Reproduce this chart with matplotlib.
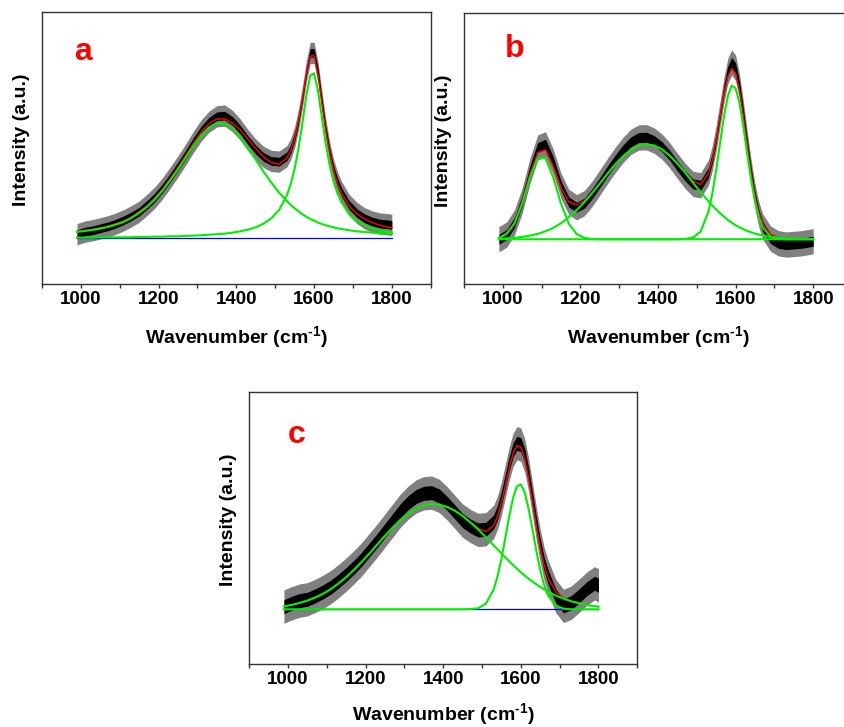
import numpy as np
import matplotlib
matplotlib.use("Agg")
import matplotlib.pyplot as plt
from matplotlib.ticker import FixedLocator

plt.rcParams['font.family'] = ['Liberation Sans', 'DejaVu Sans']
plt.rcParams['font.weight'] = 'bold'
plt.rcParams['mathtext.fontset'] = 'custom'
plt.rcParams['mathtext.rm'] = 'Liberation Sans:bold'
plt.rcParams['mathtext.default'] = 'rm'

# sampling grid (cm-1), shared by the three spectra
wavenumber = [990, 1010, 1030, 1050, 1070, 1090, 1110, 1130, 1150, 1170,
              1190, 1210, 1230, 1250, 1270, 1290, 1310, 1330, 1350, 1370,
              1390, 1410, 1430, 1450, 1470, 1490, 1510, 1530,
              1540, 1550, 1560, 1570, 1580, 1590, 1600, 1610, 1620, 1630,
              1640, 1650, 1660, 1670,
              1690, 1710, 1730, 1750, 1770, 1790, 1800]

# --- sample a : D + G bands ---
a_spectrum = [12, 20, 24, 30, 36, 44, 54, 66, 80, 100,
              122, 150, 182, 216, 252, 290, 324, 350, 366, 368,
              352, 326, 294, 266, 244, 232, 230, 246,
              268, 304, 356, 424, 500, 556, 556, 498, 410, 326, 258, 206, 168, 140,
              100, 76, 60, 50, 44, 42, 40]
a_d_band = [19, 22, 25, 29, 34, 41, 49, 61, 76, 94,
            116, 143, 174, 207, 243, 278, 310, 333, 346, 344,
            329, 304, 271, 236, 200, 167, 137, 112,
            100, 90, 81, 72, 65, 58, 53, 47, 43, 39, 36, 33, 30, 28,
            24, 21, 19, 17, 15, 14, 14]
a_g_band = [2, 2, 2, 3, 3, 3, 3, 3, 4, 4,
            5, 5, 6, 6, 7, 8, 9, 11, 12, 14,
            17, 21, 26, 33, 44, 60, 85, 129,
            163, 209, 270, 346, 428, 488, 495, 443, 363, 284, 220, 171, 135, 109,
            73, 52, 39, 30, 24, 19, 18]

# --- sample b : 1100 band + D + G ---
b_spectrum = [0, 14, 50, 116, 205, 275, 285, 232, 160, 112,
              96, 108, 136, 170, 205, 238, 268, 292, 305, 306,
              296, 278, 252, 220, 190, 166, 162, 200,
              244, 304, 376, 448, 505, 530, 514, 458, 376, 285, 200, 128, 74, 38,
              2, -12, -16, -14, -12, -8, -6]
b_1100_band = [4, 16, 47, 107, 185, 244, 244, 185, 107, 47,
               16, 4, 1, 0, 0, 0, 0, 0, 0, 0,
               0, 0, 0, 0, 0, 0, 0, 0,
               0, 0, 0, 0, 0, 0, 0, 0, 0, 0, 0, 0, 0, 0,
               0, 0, 0, 0, 0, 0, 0]
b_d_band = [1, 3, 4, 7, 11, 16, 24, 34, 48, 66,
            87, 111, 138, 167, 197, 225, 249, 268, 281, 285,
            281, 270, 251, 227, 200, 170, 141, 114,
            101, 89, 78, 68, 58, 50, 42, 36, 30, 25, 21, 17, 14, 11,
            7, 4, 3, 2, 1, 1, 0]
b_g_band = [0, 0, 0, 0, 0, 0, 0, 0, 0, 0,
            0, 0, 0, 0, 0, 0, 0, 0, 0, 0,
            0, 0, 0, 0, 1, 5, 23, 83,
            137, 208, 289, 368, 430, 461, 453, 409, 338, 256, 178, 113, 66, 36,
            8, 1, 0, 0, 0, 0, 0]

# --- sample c : D + G bands ---
c_spectrum = [8, 18, 26, 30, 40, 52, 66, 84, 104, 126,
              150, 178, 206, 236, 266, 296, 320, 338, 348, 350,
              340, 318, 292, 266, 250, 238, 240, 262,
              290, 332, 384, 436, 478, 498, 494, 462, 404, 330, 256, 190, 136, 98,
              40, 10, 20, 40, 62, 78, 72]
c_d_band = [9, 13, 19, 26, 35, 46, 60, 77, 96, 118,
            142, 167, 194, 220, 245, 268, 287, 302, 312, 316,
            314, 307, 296, 280, 261, 240, 216, 192,
            180, 168, 156, 144, 133, 122, 111, 101, 92, 83, 75, 67, 60, 53,
            41, 32, 24, 18, 13, 9, 8]
c_g_band = [0, 0, 0, 0, 0, 0, 0, 0, 0, 0,
            0, 0, 0, 0, 0, 0, 0, 0, 0, 0,
            0, 0, 0, 0, 1, 3, 17, 59,
            99, 151, 214, 278, 334, 369, 375, 351, 302, 240, 175, 118, 73, 42,
            11, 2, 0, 0, 0, 0, 0]

major_ticks = [1000, 1200, 1400, 1600, 1800]
minor_ticks = [900, 1100, 1300, 1500, 1700, 1900]


def draw_panel(ax, spectrum, bands, noise, letter, ylim, letter_xy,
               baseline=True, xlabel_y=-0.148):
    x = np.array(wavenumber)
    y = np.array(spectrum, dtype=float)
    core, outer = noise
    # noisy measured spectrum drawn as a dense band
    ax.fill_between(x, y - outer, y + outer, color='#808080', lw=0)
    ax.fill_between(x, y - core, y + core, color='black', lw=0)
    if baseline:
        ax.plot([x[0], x[-1]], [0, 0], color='#0000ff', lw=0.9)
    fit = np.sum([np.array(b) for b in bands], axis=0)
    ax.plot(x, fit, color='#ff0000', lw=1.0)
    for b in bands:
        ax.plot(x, b, color='#00ee00', lw=1.5)

    ax.set_xlim(900, 1900)
    ax.set_ylim(*ylim)
    ax.xaxis.set_major_locator(FixedLocator(major_ticks))
    ax.xaxis.set_minor_locator(FixedLocator(minor_ticks))
    ax.tick_params(axis='x', which='both', direction='out', length=3, width=1,
                   pad=2, labelsize=13.5, color='#333333')
    ax.set_yticks([])
    for s in ax.spines.values():
        s.set_color('#333333')
        s.set_linewidth(1.0)

    ax.set_xlabel('Wavenumber (cm$^{\u2010 1}$)', fontsize=14, fontweight='bold')
    ax.set_ylabel('Intensity (a.u.)', fontsize=14, fontweight='bold')
    ax.xaxis.set_label_coords(0.5, xlabel_y)
    ax.yaxis.set_label_coords(-0.032, 0.53)
    ax.text(letter_xy[0], letter_xy[1], letter, transform=ax.transAxes,
            color='#ff0000', fontsize=23, fontweight='bold',
            ha='left', va='baseline')


fig = plt.figure(figsize=(8.45, 7.27), dpi=100)
ax_a = fig.add_axes([0.0497, 0.6094, 0.4600, 0.3737])
ax_b = fig.add_axes([0.5491, 0.6090, 0.4592, 0.3728])
ax_c = fig.add_axes([0.2947, 0.0867, 0.4595, 0.3737])

draw_panel(ax_a, a_spectrum, [a_d_band, a_g_band], (13, 32), 'a',
           (-137, 678), (0.082, 0.824))
draw_panel(ax_b, b_spectrum, [b_1100_band, b_d_band, b_g_band], (15, 38), 'b',
           (-135, 678), (0.106, 0.838), baseline=False)
draw_panel(ax_c, c_spectrum, [c_d_band, c_g_band], (21, 50), 'c',
           (-164, 651), (0.101, 0.812), xlabel_y=-0.138)

fig.savefig('out.png', dpi=100)
